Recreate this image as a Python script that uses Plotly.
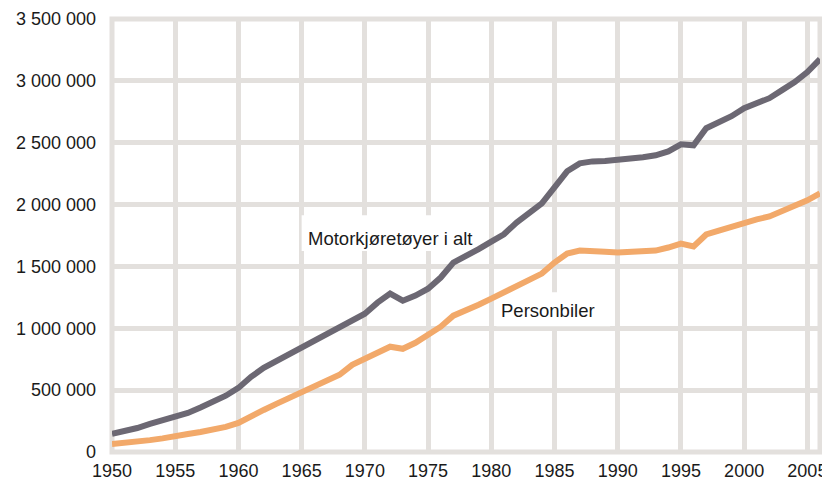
import plotly.graph_objects as go

years = list(range(1950, 2007))

motorkjoretoyer = [
    146000, 168000, 194000, 227000, 255000, 284000, 316000, 360000, 405000, 455000,
    518000, 608000, 680000, 735000, 795000, 851000, 905000, 958000, 1010000, 1069000,
    1118000, 1207000, 1280000, 1223000, 1264000, 1320000, 1410000, 1531000, 1580000, 1640000,
    1700000, 1760000, 1855000, 1936000, 2009000, 2139000, 2269000, 2333000, 2349000, 2352000,
    2358000, 2368000, 2382000, 2398000, 2430000, 2487000, 2479000, 2617000, 2665000, 2714000,
    2779000, 2820000, 2860000, 2925000, 2990000, 3071000, 3176000,
]

personbiler = [
    65000, 72000, 81000, 96000, 110000, 122000, 146000, 162000, 178000, 203000,
    235000, 292000, 340000, 389000, 435000, 478000, 527000, 575000, 624000, 705000,
    753000, 802000, 851000, 834000, 883000, 948000, 1013000, 1102000, 1142000, 1191000,
    1240000, 1288000, 1345000, 1393000, 1442000, 1531000, 1604000, 1628000, 1628000, 1618000,
    1612000, 1615000, 1620000, 1628000, 1653000, 1685000, 1661000, 1758000, 1790000, 1823000,
    1855000, 1880000, 1904000, 1944000, 1985000, 2034000, 2090000,
]

y_ticks = [0, 500000, 1000000, 1500000, 2000000, 2500000, 3000000, 3500000]
y_tick_labels = ["0", "500 000", "1 000 000", "1 500 000", "2 000 000", "2 500 000", "3 000 000", "3 500 000"]
x_ticks = [1950, 1955, 1960, 1965, 1970, 1975, 1980, 1985, 1990, 1995, 2000, 2005]

series_labels = ["Motorkjøretøyer i alt", "Personbiler"]

GRID = "#e3e0dd"
FONT = "Liberation Sans, Arial, sans-serif"
TEXT = "#1a1a1a"

fig = go.Figure()
fig.add_trace(go.Scatter(x=years, y=motorkjoretoyer, mode="lines",
                         line=dict(color="#6c6873", width=6), name=series_labels[0]))
fig.add_trace(go.Scatter(x=years, y=personbiler, mode="lines",
                         line=dict(color="#f2a96a", width=6), name=series_labels[1]))

# white label boxes interrupting the grid (drawn beneath the data lines)
fig.add_shape(type="rect", x0=1965.0, x1=1979.1, y0=1624000, y1=1914000,
              line=dict(width=0), fillcolor="white", layer="between")
fig.add_shape(type="rect", x0=1980.4, x1=1989.4, y0=1016000, y1=1292000,
              line=dict(width=0), fillcolor="white", layer="between")

fig.add_annotation(x=1972.0, y=1729000, text=series_labels[0], showarrow=False,
                   font=dict(size=18.5, color=TEXT, family=FONT))
fig.add_annotation(x=1984.5, y=1146000, text=series_labels[1], showarrow=False,
                   font=dict(size=18.5, color=TEXT, family=FONT))

# plot frame
fig.add_shape(type="rect", xref="paper", yref="paper", x0=0, x1=1, y0=0, y1=1,
              line=dict(color=GRID, width=5), fillcolor="rgba(0,0,0,0)", layer="below")

# the page body has an 8px default margin: size the figure to fit the 830x481 window
fig.update_layout(
    width=822, height=473,
    margin=dict(l=104, r=10, t=11, b=29, autoexpand=False),
    paper_bgcolor="white", plot_bgcolor="white",
    showlegend=False,
    font=dict(family=FONT, size=18, color=TEXT),
)
fig.update_xaxes(range=[1950, 2006], tickvals=x_ticks, showgrid=True, gridcolor=GRID,
                 gridwidth=5, showline=False, zeroline=False, ticks="", automargin=False,
                 tickfont=dict(size=18, family=FONT, color=TEXT), ticklabelstandoff=6)
fig.update_yaxes(range=[0, 3500000], tickvals=y_ticks, ticktext=y_tick_labels,
                 showgrid=True, gridcolor=GRID, gridwidth=5, showline=False,
                 zeroline=False, ticks="", automargin=False,
                 tickfont=dict(size=18, family=FONT, color=TEXT), ticklabelstandoff=15)

fig.write_html("out.html")
